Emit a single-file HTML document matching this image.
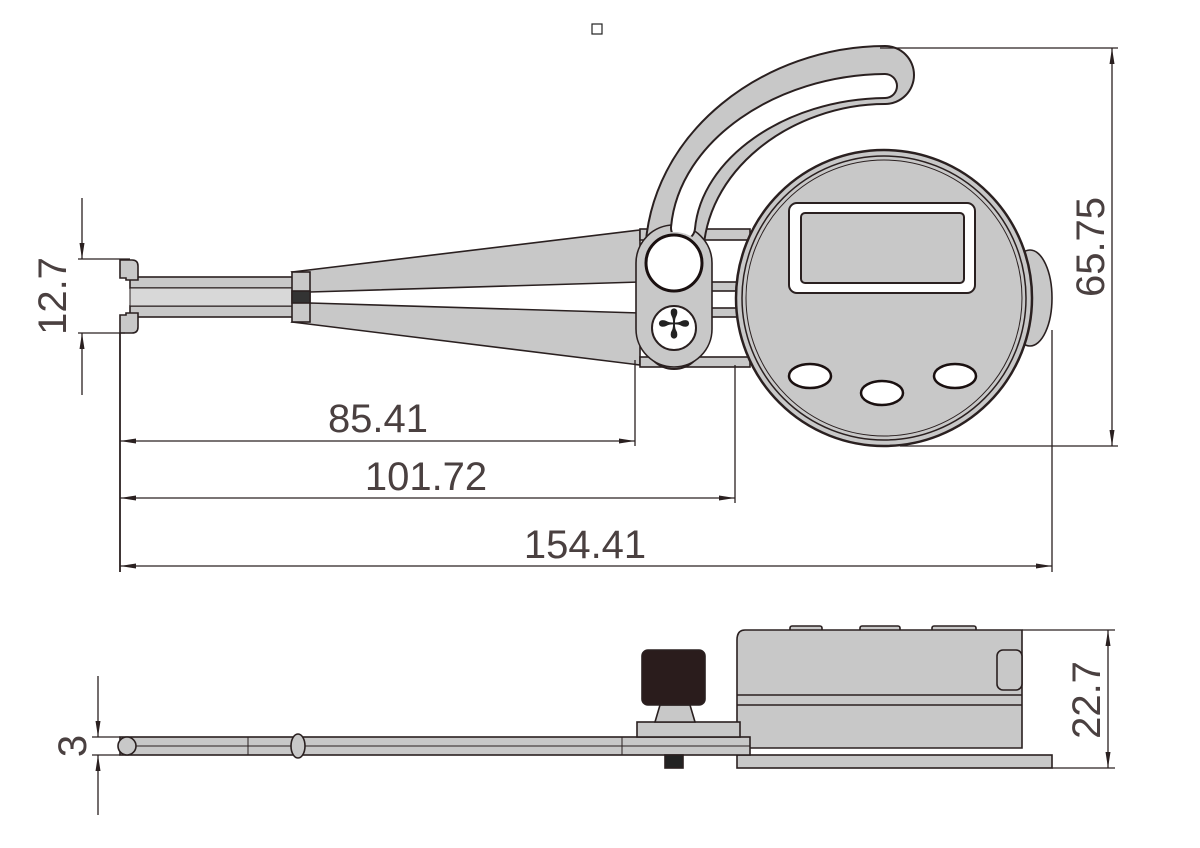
<!DOCTYPE html>
<html><head><meta charset="utf-8"><style>
html,body{margin:0;padding:0;background:#fff;width:1200px;height:848px;overflow:hidden}
svg{display:block}
text{font-family:"Liberation Sans",sans-serif;fill:#4a4040;font-size:40px}
</style></head><body>
<svg width="1200" height="848" viewBox="0 0 1200 848" xmlns="http://www.w3.org/2000/svg">
<defs>
<marker id="b" markerWidth="16" markerHeight="8" refX="16" refY="4" orient="auto-start-reverse" markerUnits="userSpaceOnUse" viewBox="0 0 16 8"><path d="M0,1.5 L16,4 L0,6.5 z" fill="#2a2020"/></marker>
</defs>
<rect x="592" y="24" width="10" height="10" fill="#fff" stroke="#222" stroke-width="1.2"/>
<g stroke="#2a2020" stroke-width="1.6" fill="#c8c8c8">
<rect x="130" y="277" width="165" height="11"/>
<rect x="130" y="306" width="165" height="11"/>
<rect x="130" y="288" width="165" height="18" fill="#d8d8d8" stroke-width="1"/>
<path d="M120,260 h12 q6,0 6,6 v14 h-12 v-2 h-6 z"/>
<path d="M120,333 h12 q6,0 6,-6 v-14 h-12 v2 h-6 z"/>
<path d="M292,272 L640,230 L640,282 L310,292 Z"/>
<path d="M292,322 L640,365 L640,313 L310,303 Z"/>
<rect x="292" y="272" width="18" height="50"/>
<rect x="292" y="291" width="18" height="12" fill="#333"/>
<rect x="640" y="229" width="110" height="11"/>
<rect x="640" y="282" width="110" height="9"/>
<rect x="640" y="308" width="110" height="9"/>
<rect x="640" y="357" width="110" height="10"/>
</g>
<path d="M674,340 L674,260 C674,150 780,75 885,75" fill="none" stroke="#2a2020" stroke-width="60" stroke-linecap="round"/>
<path d="M674,340 L674,260 C674,150 780,75 885,75" fill="none" stroke="#c8c8c8" stroke-width="56" stroke-linecap="round"/>
<rect x="636" y="225" width="76" height="142" rx="38" fill="#c8c8c8" stroke="#2a2020" stroke-width="1.6"/>
<path d="M683,228 C690,150 780,87 885,86" fill="none" stroke="#2a2020" stroke-width="26" stroke-linecap="round"/>
<path d="M683,228 C690,150 780,87 885,86" fill="none" stroke="#fff" stroke-width="22" stroke-linecap="round"/>
<rect x="637" y="232" width="74" height="132" rx="37" fill="#c8c8c8"/>
<circle cx="674" cy="263" r="28" fill="#fff" stroke="#1a1010" stroke-width="3"/>
<circle cx="674" cy="328" r="22" fill="#fff" stroke="#2a2020" stroke-width="2"/>
<text x="674" y="338" font-size="24" text-anchor="middle" style="fill:#222">✢</text>
<ellipse cx="1030" cy="298" rx="22" ry="48" fill="#c8c8c8" stroke="#2a2020" stroke-width="1.6"/>
<circle cx="884" cy="298" r="148" fill="#c8c8c8" stroke="#2a2020" stroke-width="2.5"/>
<circle cx="884" cy="298" r="142" fill="none" stroke="#2a2020" stroke-width="1.5"/>
<circle cx="884" cy="298" r="138" fill="none" stroke="#2a2020" stroke-width="1"/>
<rect x="789" y="203" width="186" height="90" rx="8" fill="#fff" stroke="#2a2020" stroke-width="2"/>
<rect x="801" y="213" width="163" height="70" rx="4" fill="#c8c8c8" stroke="#2a2020" stroke-width="2"/>
<g fill="#fff" stroke="#1a1010" stroke-width="2.5">
<ellipse cx="810" cy="376" rx="21" ry="12"/><ellipse cx="882" cy="393" rx="21" ry="12"/><ellipse cx="955" cy="376" rx="21" ry="12"/>
</g>
<g stroke="#2a2020" stroke-width="1.3" fill="none">
<line x1="78" y1="259" x2="130" y2="259"/><line x1="78" y1="333" x2="125" y2="333"/>
<line x1="82" y1="198" x2="82" y2="259" marker-end="url(#b)"/>
<line x1="82" y1="395" x2="82" y2="333" marker-end="url(#b)"/>
<line x1="120" y1="333" x2="120" y2="572" stroke-width="1.8"/>
<line x1="635" y1="360" x2="635" y2="446"/>
<line x1="735" y1="365" x2="735" y2="503"/>
<line x1="1052" y1="330" x2="1052" y2="572"/>
<line x1="120" y1="441" x2="635" y2="441" marker-start="url(#b)" marker-end="url(#b)"/>
<line x1="120" y1="498" x2="735" y2="498" marker-start="url(#b)" marker-end="url(#b)"/>
<line x1="120" y1="566" x2="1052" y2="566" marker-start="url(#b)" marker-end="url(#b)"/>
<line x1="880" y1="48" x2="1118" y2="48"/><line x1="900" y1="446" x2="1118" y2="446"/>
<line x1="1112" y1="48" x2="1112" y2="446" marker-start="url(#b)" marker-end="url(#b)"/>
<line x1="92" y1="737" x2="120" y2="737"/><line x1="92" y1="755" x2="120" y2="755"/>
<line x1="98" y1="676" x2="98" y2="737" marker-end="url(#b)"/>
<line x1="98" y1="815" x2="98" y2="755" marker-end="url(#b)"/>
<line x1="1022" y1="630" x2="1115" y2="630"/><line x1="1052" y1="768" x2="1115" y2="768"/>
<line x1="1108" y1="630" x2="1108" y2="768" marker-start="url(#b)" marker-end="url(#b)"/>
</g>
<text x="378" y="432" text-anchor="middle">85.41</text>
<text x="426" y="490" text-anchor="middle">101.72</text>
<text x="585" y="558" text-anchor="middle">154.41</text>
<text transform="translate(66,296) rotate(-90)" text-anchor="middle">12.7</text>
<text transform="translate(1104,247) rotate(-90)" text-anchor="middle">65.75</text>
<text transform="translate(86,746) rotate(-90)" text-anchor="middle">3</text>
<text transform="translate(1100,700) rotate(-90)" text-anchor="middle">22.7</text>
<g stroke="#2a2020" stroke-width="1.6" fill="#c8c8c8">
<rect x="790" y="626" width="32" height="6" rx="2"/><rect x="860" y="626" width="40" height="6" rx="2"/><rect x="932" y="626" width="44" height="6" rx="2"/>
<rect x="737" y="755" width="315" height="13"/>
<path d="M745,630 H1022 V748 H737 V640 Q737,630 745,630 Z"/>
<line x1="737" y1="695" x2="1022" y2="695"/><line x1="737" y1="705" x2="1022" y2="705"/>
<rect x="997" y="650" width="25" height="40" rx="6"/>
<rect x="120" y="737" width="630" height="18"/>
<line x1="130" y1="746" x2="750" y2="746" stroke-width="1"/>
<rect x="637" y="722" width="103" height="15"/>
<path d="M655,722 L660,705 H690 L695,722 Z"/>
<rect x="665" y="755" width="18" height="13" fill="#222"/>
<rect x="642" y="650" width="63" height="55" rx="6" fill="#2a1c1c"/>
<circle cx="127" cy="746" r="9"/>
<ellipse cx="298" cy="746" rx="7" ry="12"/>
<line x1="248" y1="737" x2="248" y2="755" stroke-width="1"/><line x1="622" y1="737" x2="622" y2="755" stroke-width="1"/>
</g>
</svg>
</body></html>
